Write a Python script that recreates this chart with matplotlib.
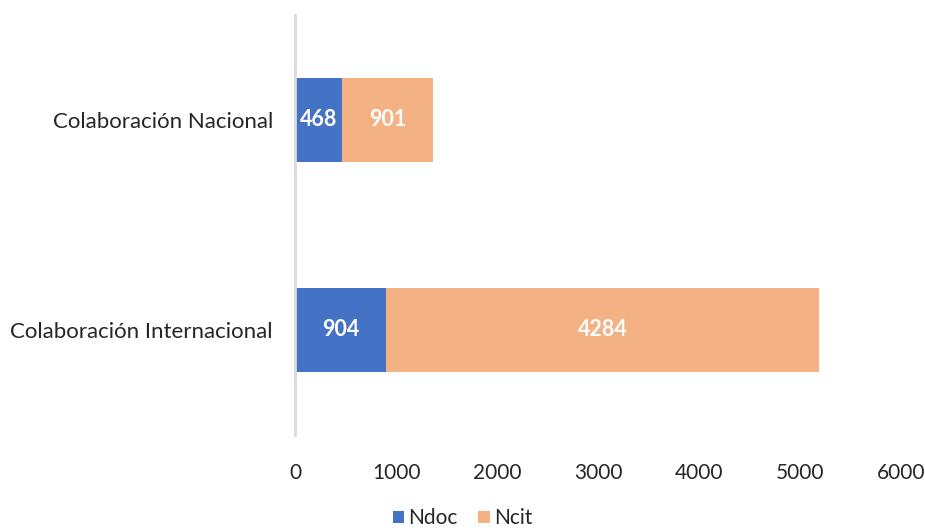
import matplotlib.pyplot as plt

plt.rcParams['font.family'] = ['Lato', 'DejaVu Sans']

categorias = ['Colaboración Internacional', 'Colaboración Nacional']
ndoc = [904, 468]
ncit = [4284, 901]

azul = '#4472C4'
naranja = '#F4B183'

fig = plt.figure(figsize=(9.25, 5.31), dpi=100)
ax = fig.add_axes([0.319, 0.181, 0.655, 0.791])

pos = range(len(categorias))
b1 = ax.barh(pos, ndoc, height=0.4, color=azul, label='Ndoc')
b2 = ax.barh(pos, ncit, height=0.4, left=ndoc, color=naranja, label='Ncit')

for barras in (b1, b2):
	for r in barras:
		x = r.get_x() + r.get_width() / 2
		y = r.get_y() + r.get_height() / 2
		ax.text(x, y, str(int(r.get_width())), ha='center', va='center',
				color='white', fontsize=15.5, fontweight='bold')

ax.set_xlim(0, 6000)
ax.set_ylim(-0.5, 1.5)
ax.set_xticks(range(0, 6001, 1000))
ax.set_yticks(list(pos))
ax.set_yticklabels(categorias)
ax.tick_params(axis='both', length=0, colors='#262626')
ax.tick_params(axis='x', pad=20, labelsize=15)
ax.tick_params(axis='y', pad=16, labelsize=16)

for lado in ('top', 'right', 'bottom'):
	ax.spines[lado].set_visible(False)
ax.spines['left'].set_color('#D9D9D9')
ax.spines['left'].set_linewidth(2)

fig.legend(loc='lower center', bbox_to_anchor=(0.5, -0.03), ncol=2, frameon=False,
		   fontsize=15, handlelength=0.55, handleheight=0.55, handletextpad=0.2,
		   columnspacing=1.0, labelcolor='#262626')

fig.savefig('out.png', dpi=100)
